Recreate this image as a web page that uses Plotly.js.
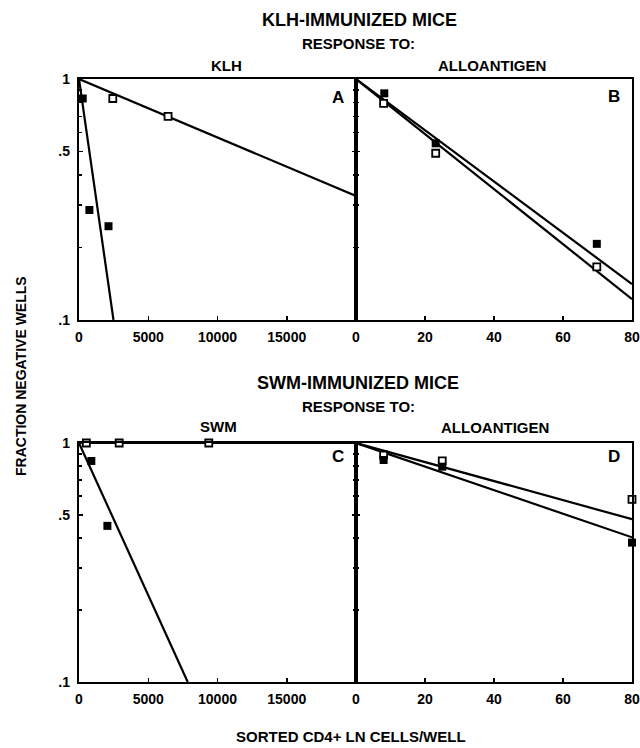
<!DOCTYPE html>
<html>
<head>
<meta charset="utf-8">
<script src="https://cdn.plot.ly/plotly-3.0.1.min.js"></script>
<style>html,body{margin:0;padding:0;background:#fff;}#chart{width:640px;height:748px;}</style>
</head>
<body>
<div id="chart"></div>
<script>
// ---- Data ----
// Panel A: KLH-immunized, response to KLH (cells/well)
const aOpenX = [2440, 6430];
const aOpenY = [0.83, 0.70];
const aFillX = [270, 750, 2130];
const aFillY = [0.83, 0.286, 0.245];
const aFitOpenX = [0, 20000];
const aFitOpenY = [1, 0.327];
const aFitFillX = [0, 2490];
const aFitFillY = [1, 0.1];
// Panel B: KLH-immunized, response to alloantigen
const bOpenX = [8.0, 23.1, 69.8];
const bOpenY = [0.793, 0.492, 0.166];
const bFillX = [8.2, 23.1, 69.8];
const bFillY = [0.872, 0.541, 0.207];
const bFitFillX = [0, 80];
const bFitFillY = [1, 0.141];
const bFitOpenX = [0, 80];
const bFitOpenY = [1, 0.122];
// Panel C: SWM-immunized, response to SWM
const cOpenX = [530, 2900, 9370];
const cOpenY = [1, 1, 1];
const cFillX = [890, 2050];
const cFillY = [0.841, 0.45];
const cFitOpenX = [0, 20000];
const cFitOpenY = [1, 1];
const cFitFillX = [0, 7850];
const cFitFillY = [1, 0.1];
// Panel D: SWM-immunized, response to alloantigen
const dOpenX = [8, 25, 80];
const dOpenY = [0.891, 0.841, 0.581];
const dFillX = [8, 25, 80];
const dFillY = [0.849, 0.796, 0.383];
const dFitOpenX = [0, 80];
const dFitOpenY = [1, 0.48];
const dFitFillX = [0, 80];
const dFitFillY = [1, 0.403];

// tick labels
const yTickVals = [0.1, 0.5, 1];
const yTickText = ['.1', '.5', '1'];
const yMinorVals = [0.2, 0.3, 0.4, 0.6, 0.7, 0.8, 0.9];
const cellTickVals = [0, 5000, 10000, 15000];
const cellTickText = ['0', '5000', '10000', '15000'];
const alloTickVals = [0, 20, 40, 60, 80];
const alloTickText = ['0', '20', '40', '60', '80'];

// ---- Layout helpers ----
const W = 640, H = 748;
const FONT = 'Liberation Sans, Arial, Helvetica, sans-serif';
const px = v => v / W;
const py = v => 1 - v / H;

function lineTrace(x, y, xa, ya) {
  return {x: x, y: y, xaxis: xa, yaxis: ya, mode: 'lines', type: 'scatter',
          line: {color: '#000', width: 2.2}, hoverinfo: 'skip', showlegend: false};
}
function markTrace(x, y, xa, ya, filled) {
  return {x: x, y: y, xaxis: xa, yaxis: ya, mode: 'markers', type: 'scatter', cliponaxis: false,
          marker: {symbol: 'square', size: filled ? 8 : 7, color: filled ? '#000' : '#fff',
                   line: {color: '#000', width: filled ? 0 : 1.8}},
          hoverinfo: 'skip', showlegend: false};
}

const traces = [
  lineTrace(aFitOpenX, aFitOpenY, 'x', 'y'),
  lineTrace(aFitFillX, aFitFillY, 'x', 'y'),
  markTrace(aOpenX, aOpenY, 'x', 'y', false),
  markTrace(aFillX, aFillY, 'x', 'y', true),
  lineTrace(bFitFillX, bFitFillY, 'x2', 'y2'),
  lineTrace(bFitOpenX, bFitOpenY, 'x2', 'y2'),
  markTrace(bOpenX, bOpenY, 'x2', 'y2', false),
  markTrace(bFillX, bFillY, 'x2', 'y2', true),
  lineTrace(cFitOpenX, cFitOpenY, 'x3', 'y3'),
  lineTrace(cFitFillX, cFitFillY, 'x3', 'y3'),
  markTrace(cOpenX, cOpenY, 'x3', 'y3', false),
  markTrace(cFillX, cFillY, 'x3', 'y3', true),
  lineTrace(dFitOpenX, dFitOpenY, 'x4', 'y4'),
  lineTrace(dFitFillX, dFitFillY, 'x4', 'y4'),
  markTrace(dOpenX, dOpenY, 'x4', 'y4', false),
  markTrace(dFillX, dFillY, 'x4', 'y4', true)
];

const tickFont = {family: FONT, size: 14, color: '#000', weight: 700};

function xAxis(domain, range, vals, text, anchor) {
  return {domain: domain, range: range, anchor: anchor, tickmode: 'array', tickvals: vals, ticktext: text,
          ticks: 'inside', ticklen: 4, tickwidth: 1.5, tickcolor: '#000',
          showline: true, linecolor: '#000', linewidth: 2.2, mirror: true,
          showgrid: false, zeroline: false, tickfont: tickFont, ticklabelstandoff: 3, fixedrange: true};
}
function yAxis(domain, anchor, labels) {
  return {domain: domain, type: 'log', range: [-1, 0], anchor: anchor,
          tickmode: 'array', tickvals: yTickVals, ticktext: yTickText, showticklabels: labels,
          ticks: 'inside', ticklen: 4, tickwidth: 1.5, tickcolor: '#000',
          minor: {tickmode: 'array', tickvals: yMinorVals, ticks: 'inside', ticklen: 3, tickwidth: 1.5, tickcolor: '#000'},
          showline: true, linecolor: '#000', linewidth: 2.2, mirror: labels ? 'allticks' : true,
          showgrid: false, zeroline: false, tickfont: tickFont, ticklabelstandoff: 4, fixedrange: true};
}

const xLeft = [px(79), px(356)];
const xRight = [px(356), px(632)];
const yTop = [py(320), py(79)];
const yBot = [py(682), py(443)];

function ann(text, x, y, size, extra) {
  return Object.assign({text: text, x: px(x), y: py(y), xref: 'paper', yref: 'paper',
          xanchor: 'center', yanchor: 'middle', showarrow: false,
          font: {family: FONT, size: size, color: '#000', weight: 700}}, extra || {});
}

const layout = {
  width: W, height: H,
  margin: {l: 0, r: 0, t: 0, b: 0, pad: 0},
  paper_bgcolor: '#fff', plot_bgcolor: '#fff',
  showlegend: false,
  xaxis: xAxis(xLeft, [0, 20000], cellTickVals, cellTickText, 'y'),
  yaxis: yAxis(yTop, 'x', true),
  xaxis2: xAxis(xRight, [0, 80], alloTickVals, alloTickText, 'y2'),
  yaxis2: yAxis(yTop, 'x2', false),
  xaxis3: xAxis(xLeft, [0, 20000], cellTickVals, cellTickText, 'y3'),
  yaxis3: yAxis(yBot, 'x3', true),
  xaxis4: xAxis(xRight, [0, 80], alloTickVals, alloTickText, 'y4'),
  yaxis4: yAxis(yBot, 'x4', false),
  annotations: [
    ann('KLH-IMMUNIZED MICE', 359, 20, 18),
    ann('RESPONSE TO:', 358, 43, 15),
    ann('KLH', 226, 65, 15),
    ann('ALLOANTIGEN', 492, 65, 15),
    ann('A', 338, 98, 17),
    ann('B', 614, 97, 17),
    ann('SWM-IMMUNIZED MICE', 358, 383, 18),
    ann('RESPONSE TO:', 358, 407, 15),
    ann('SWM', 218, 427, 15),
    ann('ALLOANTIGEN', 495, 428, 15),
    ann('C', 338, 456, 17),
    ann('D', 614, 456, 17),
    ann('FRACTION NEGATIVE WELLS', 21, 376, 14, {textangle: -90}),
    ann('SORTED CD4+ LN CELLS/WELL', 351, 736, 15)
  ]
};

Plotly.newPlot('chart', traces, layout, {staticPlot: true, displayModeBar: false});
</script>
</body>
</html>
